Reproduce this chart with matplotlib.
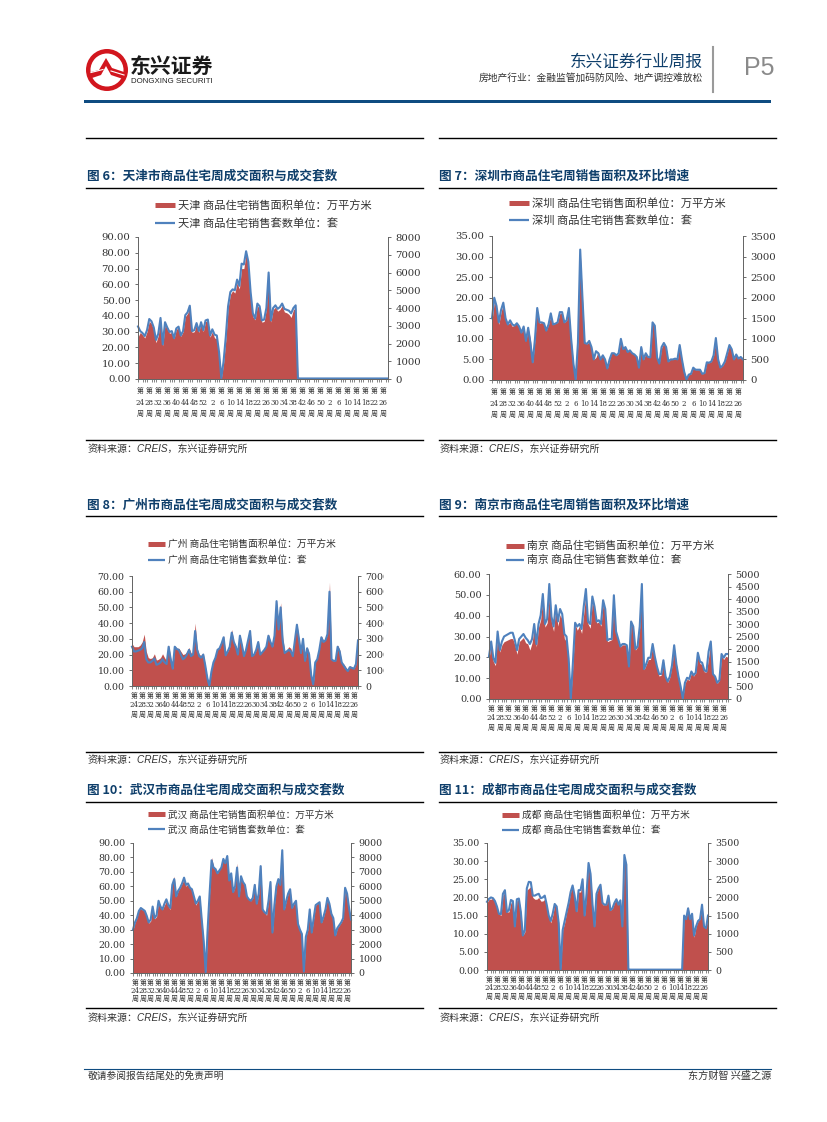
import matplotlib
matplotlib.use('Agg')
import matplotlib.pyplot as plt
import numpy as np
from matplotlib.lines import Line2D
from matplotlib.patches import Circle, Polygon, Rectangle
from matplotlib.transforms import Bbox

W, H = 827, 1122
CJK = 'Noto Sans CJK SC'
SERIF = ['DejaVu Serif', CJK]
plt.rcParams['font.family'] = [CJK, 'DejaVu Sans']

week_labels = [24, 28, 32, 36, 40, 44, 48, 52, 2, 6, 10, 14, 18, 22, 26, 30, 34, 38, 42, 46, 50, 2, 6, 10, 14, 18, 22, 26]

# ---- Tianjin
tj_area = [26.5, 29.5, 28.0, 26.0, 30.0, 36.5, 35.0, 31.0, 23.0, 27.5,
           38.0, 21.0, 35.0, 31.5, 29.0, 29.5, 25.5, 31.5, 32.5, 27.0,
           30.0, 39.5, 41.5, 45.5, 29.5, 30.0, 35.0, 29.5, 36.0, 30.0,
           36.5, 37.0, 26.5, 30.0, 26.0, 25.5, 16.0, 0.5, 10.0, 25.0,
           45.0, 53.5, 56.0, 54.5, 61.0, 57.0, 70.0, 70.0, 79.5, 72.0,
           53.5, 39.5, 37.5, 46.5, 44.5, 36.0, 36.5, 44.5, 67.0, 36.0,
           44.0, 45.5, 43.0, 44.0, 46.5, 42.5, 42.0, 41.0, 39.0, 44.0,
           45.0, 0.3, 0.2, 0.2, 0.2, 0.2, 0.2, 0.2, 0.2, 0.2,
           0.2, 0.2, 0.2, 0.2, 0.2, 0.2, 0.2, 0.2, 0.2, 0.2,
           0.2, 0.2, 0.2, 0.2, 0.2, 0.2, 0.2, 0.2, 0.2, 0.2,
           0.2, 0.2, 0.2, 0.2, 0.2, 0.2, 0.2, 0.2, 0.2, 0.2,
           0.2, 0.2]
tj_sets = [2960, 2700, 2590, 2420, 2750, 3380, 3250, 2900, 2200, 2550,
           3440, 1950, 3200, 2900, 2650, 2700, 2300, 2850, 2950, 2450,
           2700, 3600, 3750, 4130, 2700, 2750, 3150, 2700, 3200, 2750,
           3300, 3350, 2450, 2800, 2500, 2450, 1500, 50, 1000, 2400,
           4100, 4900, 5050, 5000, 5600, 5250, 6500, 6450, 7200, 6600,
           4900, 3700, 3400, 4250, 4100, 3300, 3350, 4000, 6000, 3300,
           4000, 4150, 3950, 4050, 4250, 3950, 3900, 3850, 3700, 4000,
           4150, 40, 30, 30, 30, 30, 30, 30, 30, 30,
           30, 30, 30, 30, 30, 30, 30, 30, 30, 30,
           30, 30, 30, 30, 30, 30, 30, 30, 30, 30,
           30, 30, 30, 30, 30, 30, 30, 30, 30, 30,
           30, 30]

# ---- Shenzhen
sz_area = [14.5, 19.0, 17.5, 13.5, 16.5, 18.5, 14.8, 13.5, 14.0, 13.0,
           13.5, 13.8, 13.2, 11.5, 13.0, 9.5, 12.8, 9.8, 4.2, 9.8,
           17.0, 13.8, 14.0, 13.6, 12.0, 13.5, 15.8, 13.5, 13.8, 14.0,
           16.2, 16.3, 14.0, 14.5, 17.0, 10.0, 4.0, 0.2, 9.0, 31.5,
           20.0, 9.0, 8.8, 9.3, 8.0, 5.0, 5.5, 7.0, 5.2, 6.0,
           4.8, 2.8, 5.0, 6.8, 6.6, 6.0, 6.5, 9.8, 7.8, 8.0,
           7.0, 7.3, 6.5, 6.2, 5.8, 3.2, 8.3, 5.0, 6.5, 5.7,
           5.5, 14.0, 13.0, 5.5, 4.2, 7.8, 9.0, 8.0, 4.5, 5.2,
           5.0, 5.2, 5.0, 8.5, 5.0, 2.0, 0.3, 1.3, 1.5, 3.0,
           2.5, 2.5, 2.5, 1.5, 1.7, 4.3, 4.2, 4.5, 6.0, 10.0,
           5.0, 3.0, 3.5, 4.5, 6.5, 8.5, 7.5, 5.0, 6.2, 5.2,
           5.5, 5.0]
sz_sets = [1500, 2000, 1800, 1400, 1700, 1880, 1500, 1350, 1450, 1350,
           1320, 1380, 1300, 1150, 1300, 950, 1270, 900, 430, 1000,
           1750, 1400, 1400, 1380, 1200, 1350, 1620, 1350, 1370, 1400,
           1650, 1650, 1400, 1450, 1750, 1000, 400, 10, 900, 3170,
           2000, 900, 880, 950, 800, 500, 700, 650, 500, 600,
           500, 280, 500, 650, 650, 600, 650, 1000, 750, 800,
           680, 720, 650, 620, 560, 300, 800, 500, 650, 560,
           550, 1400, 1320, 550, 400, 800, 900, 800, 450, 500,
           500, 520, 500, 850, 500, 200, 10, 130, 150, 300,
           250, 250, 250, 150, 170, 430, 420, 450, 600, 1020,
           500, 300, 350, 450, 650, 850, 750, 500, 620, 520,
           560, 500]

# ---- Guangzhou
gz_area = [27.0, 25.0, 25.0, 25.0, 26.0, 28.0, 33.0, 22.0, 18.0, 17.5,
           18.0, 20.5, 16.5, 17.0, 18.0, 20.5, 18.0, 16.0, 26.0, 18.0,
           11.0, 25.5, 24.0, 24.0, 22.0, 20.0, 20.5, 22.0, 24.5, 21.0,
           21.0, 40.0, 24.0, 20.0, 19.5, 21.0, 13.0, 5.0, 0.5, 10.0,
           16.0, 19.5, 23.5, 24.0, 28.0, 32.0, 20.5, 22.0, 25.0, 36.0,
           28.0, 25.5, 21.0, 33.0, 26.0, 19.5, 24.0, 30.0, 36.0, 20.0,
           20.5, 23.0, 29.0, 20.5, 22.0, 24.0, 26.0, 33.0, 28.0, 25.0,
           33.0, 54.0, 38.0, 53.0, 31.0, 22.0, 23.0, 25.0, 24.0, 20.0,
           32.0, 40.0, 30.0, 21.0, 31.0, 16.0, 25.0, 21.0, 7.0, 1.0,
           15.0, 18.0, 24.0, 32.0, 29.0, 30.0, 33.0, 66.0, 17.0, 16.0,
           16.5, 26.0, 23.0, 15.0, 14.0, 12.0, 10.0, 13.0, 12.0, 11.0,
           14.0, 30.0]
gz_sets = [2500, 2200, 2200, 2250, 2300, 2400, 2800, 1700, 1500, 1500,
           1600, 1750, 1350, 1400, 1500, 1700, 1500, 1400, 2500, 1700,
           1100, 2500, 2350, 2300, 2000, 1700, 1800, 2000, 2300, 1900,
           2000, 3500, 2300, 1900, 1800, 2000, 1300, 500, 10, 900,
           1500, 1800, 2300, 2400, 2700, 3100, 1950, 2200, 2500, 3400,
           2800, 2500, 2000, 3200, 2600, 1900, 2300, 2900, 3500, 1900,
           2000, 2300, 2800, 2000, 2150, 2300, 2500, 3200, 2800, 2500,
           3200, 5400, 3600, 5000, 2900, 2100, 2200, 2300, 2200, 1900,
           2900, 3900, 3000, 2100, 3000, 1600, 2400, 2000, 700, 100,
           1500, 1700, 2300, 3100, 2800, 2900, 3300, 6000, 1700, 1600,
           1600, 2500, 2200, 1500, 1300, 1100, 950, 1200, 1150, 1100,
           1400, 2900]

# ---- Nanjing
nj_area = [19.5, 26.0, 18.0, 16.0, 31.0, 22.5, 26.0, 27.5, 28.0, 28.5,
           29.0, 29.0, 26.0, 21.5, 27.5, 28.5, 29.5, 27.0, 26.5, 23.5,
           27.0, 34.0, 25.0, 34.5, 38.0, 49.0, 34.5, 36.5, 50.0, 37.0,
           32.5, 44.0, 35.0, 40.5, 38.0, 29.0, 27.5, 18.0, 0.3, 17.0,
           36.0, 33.0, 35.0, 31.5, 41.0, 50.5, 36.0, 34.0, 47.0, 42.5,
           36.5, 37.0, 35.0, 46.0, 42.0, 27.5, 28.0, 28.5, 49.0, 32.0,
           28.5, 25.0, 26.0, 26.0, 25.5, 15.5, 36.5, 34.0, 23.5, 25.0,
           34.5, 55.0, 14.0, 16.5, 19.0, 19.0, 26.0, 20.0, 15.0, 11.0,
           11.5, 18.5, 10.5, 8.0, 10.5, 16.0, 25.5, 17.0, 10.5, 5.5,
           0.5, 7.5, 9.5, 9.0, 12.5, 11.0, 12.5, 21.0, 17.0, 16.5,
           13.0, 13.0, 20.0, 27.5, 12.0, 10.5, 7.5, 9.0, 20.5, 19.0,
           20.5, 20.0]
nj_sets = [1700, 2300, 1650, 1450, 2700, 1950, 2300, 2500, 2550, 2600,
           2650, 2650, 2350, 1950, 2400, 2500, 2600, 2450, 2350, 2200,
           2400, 3000, 2200, 3000, 3350, 4200, 3000, 3200, 4600, 3300,
           2900, 3750, 3100, 3600, 3400, 2600, 2500, 1600, 10, 1500,
           3050, 2900, 3000, 2800, 3700, 4400, 3100, 3000, 4100, 3700,
           3100, 3150, 3000, 3950, 3600, 2350, 2400, 2400, 4150, 2700,
           2400, 2100, 2200, 2200, 2150, 1300, 3100, 2900, 2000, 2100,
           2900, 4600, 1200, 1400, 1650, 1650, 2200, 1700, 1300, 1000,
           1000, 1550, 900, 700, 900, 1350, 2150, 1400, 900, 500,
           10, 650, 850, 800, 1100, 950, 1050, 1850, 1500, 1450,
           1150, 1100, 1900, 2300, 1000, 900, 650, 750, 1800, 1650,
           1800, 1800]

# ---- Wuhan
wh_area = [30.0, 35.0, 38.0, 44.0, 44.5, 43.5, 42.5, 39.0, 34.5, 36.0,
           46.0, 37.5, 39.0, 50.0, 45.0, 44.0, 47.0, 50.0, 46.0, 44.0,
           61.0, 67.0, 53.0, 57.0, 59.0, 62.0, 65.0, 60.0, 62.0, 59.0,
           58.0, 52.0, 47.0, 50.0, 53.0, 37.0, 22.0, 0.5, 30.0, 55.0,
           80.0, 74.0, 72.0, 69.0, 72.0, 74.0, 79.0, 76.0, 82.0, 64.0,
           69.0, 56.0, 60.0, 76.0, 53.0, 67.0, 62.0, 61.0, 53.0, 51.0,
           50.0, 52.0, 62.0, 48.0, 55.0, 75.0, 44.0, 42.0, 40.0, 50.0,
           64.0, 28.0, 47.0, 60.0, 66.0, 61.0, 85.0, 44.0, 50.0, 55.0,
           58.0, 45.0, 48.0, 50.0, 34.0, 30.0, 27.0, 1.0, 25.0, 30.0,
           44.0, 28.0, 38.0, 47.0, 48.0, 49.0, 35.0, 39.0, 44.0, 52.0,
           48.0, 41.0, 38.0, 26.0, 31.0, 33.0, 35.0, 38.0, 58.0, 55.0,
           45.0, 36.0]
wh_sets = [3000, 3500, 3800, 4300, 4500, 4400, 4300, 3950, 3500, 3700,
           4600, 3800, 4000, 5000, 4600, 4400, 4800, 5100, 4700, 4500,
           6100, 6500, 5300, 5700, 5900, 6200, 6600, 6100, 6200, 5900,
           5800, 5300, 4800, 5000, 5300, 3700, 2200, 50, 3000, 5500,
           7800, 7300, 7200, 6900, 7100, 7300, 7900, 7600, 8100, 6400,
           6900, 5600, 6000, 7300, 5300, 6700, 6300, 6100, 5300, 5100,
           5000, 5200, 6100, 4800, 5500, 7400, 4400, 4200, 4100, 5000,
           6300, 2800, 4700, 6000, 6500, 6100, 8500, 4400, 5000, 5500,
           5800, 4500, 4800, 5000, 3400, 3000, 2700, 100, 2500, 3000,
           4400, 2800, 3800, 4700, 4800, 4900, 3500, 3900, 4400, 5200,
           4800, 4100, 3800, 2600, 3100, 3300, 3500, 3800, 5900, 5500,
           4500, 3700]

# ---- Chengdu
cd_area = [18.5, 19.5, 19.5, 19.8, 19.0, 17.0, 15.5, 15.0, 20.5, 21.5,
           16.0, 16.0, 18.5, 18.8, 12.0, 19.0, 19.5, 16.0, 9.5, 10.5,
           22.0, 22.5, 23.0, 20.0, 19.5, 19.5, 20.0, 19.0, 19.0, 19.5,
           17.5, 15.0, 13.0, 15.0, 18.0, 17.0, 13.0, 0.3, 11.0, 13.0,
           16.0, 18.5, 21.5, 23.0, 20.0, 16.0, 21.5, 21.5, 25.0, 15.0,
           21.0, 29.5, 26.5, 18.0, 12.0, 21.0, 22.5, 23.5, 18.0, 18.0,
           18.0, 20.5, 16.5, 17.0, 18.5, 19.5, 18.0, 19.0, 12.0, 31.5,
           29.0, 0.2, 0.1, 0.1, 0.1, 0.1, 0.1, 0.1, 0.1, 0.1,
           0.1, 0.1, 0.1, 0.1, 0.1, 0.1, 0.1, 0.1, 0.1, 0.1,
           0.1, 0.1, 0.1, 0.1, 0.1, 0.1, 0.1, 0.1, 0.1, 15.0,
           14.0, 17.5, 14.0, 15.5, 9.0, 12.0, 13.5, 14.0, 18.0, 12.0,
           11.5, 15.0]
cd_sets = [1880, 1960, 2000, 1980, 1900, 1750, 1550, 1540, 2100, 2200,
           1600, 1650, 1930, 1900, 1200, 1950, 1970, 1600, 950, 1100,
           2250, 2430, 2420, 2050, 2050, 2080, 2100, 1980, 2000, 2050,
           1800, 1500, 1350, 1550, 1820, 1750, 1300, 20, 1100, 1350,
           1600, 1850, 2150, 2330, 2050, 1620, 2200, 2200, 2500, 1500,
           2100, 2950, 2650, 1800, 1200, 2100, 2250, 2350, 1850, 1800,
           1800, 2050, 1650, 1700, 1850, 1950, 1800, 1920, 1200, 3170,
           2900, 20, 10, 10, 10, 10, 10, 10, 10, 10,
           10, 10, 10, 10, 10, 10, 10, 10, 10, 10,
           10, 10, 10, 10, 10, 10, 10, 10, 10, 1500,
           1400, 1700, 1400, 1550, 950, 1200, 1350, 1400, 1800, 1200,
           1150, 1500]

tj_left, tj_right = np.arange(0, 91, 10), np.arange(0, 8001, 1000)
sz_left, sz_right = np.arange(0, 36, 5), np.arange(0, 3501, 500)
gz_left, gz_right = np.arange(0, 71, 10), np.arange(0, 7001, 1000)
nj_left, nj_right = np.arange(0, 61, 10), np.arange(0, 5001, 500)
wh_left, wh_right = np.arange(0, 91, 10), np.arange(0, 9001, 1000)
cd_left, cd_right = np.arange(0, 36, 5), np.arange(0, 3501, 500)

titles = ['图 6：天津市商品住宅周成交面积与成交套数', '图 7：深圳市商品住宅周销售面积及环比增速',
          '图 8：广州市商品住宅周成交面积与成交套数', '图 9：南京市商品住宅周销售面积及环比增速',
          '图 10：武汉市商品住宅周成交面积与成交套数', '图 11：成都市商品住宅周成交面积与成交套数']
cities = ['天津', '深圳', '广州', '南京', '武汉', '成都']
source = '资料来源：CREIS，东兴证券研究所'

RED, BLUE, NAVY = '#C0504D', '#4F81BD', '#0F3F6B'

layouts = [
    dict(box=(138, 388, 237, 379), leg=(155, 200), lfs=8.1, tfs=7.3, sp=1.55, pad=6, hw=20, ls=0.67, clip=None),
    dict(box=(492, 743, 236, 380), leg=(509, 198), lfs=8.1, tfs=7.3, sp=1.55, pad=6, hw=20, ls=0.57, clip=None),
    dict(box=(132, 358, 576, 686), leg=(148, 539), lfs=7.0, tfs=6.8, sp=1.3, pad=4, hw=17, ls=0.62, clip=384),
    dict(box=(489, 728, 574, 699), leg=(506, 541), lfs=7.8, tfs=7.0, sp=1.3, pad=4, hw=18, ls=0.35, clip=None),
    dict(box=(133, 351, 843, 973), leg=(148, 810), lfs=6.9, tfs=6.8, sp=1.05, pad=4, hw=17, ls=0.55, clip=None),
    dict(box=(487, 708, 843, 970), leg=(502, 810), lfs=7.0, tfs=6.8, sp=1.15, pad=4, hw=17, ls=0.52, clip=None),
]
series = [(tj_area, tj_sets, tj_left, tj_right), (sz_area, sz_sets, sz_left, sz_right),
          (gz_area, gz_sets, gz_left, gz_right), (nj_area, nj_sets, nj_left, nj_right),
          (wh_area, wh_sets, wh_left, wh_right), (cd_area, cd_sets, cd_left, cd_right)]

fig = plt.figure(figsize=(W / 100, H / 100), dpi=100, facecolor='white')
page = fig.add_axes([0, 0, 1, 1], zorder=0)
page.set_xlim(0, W)
page.set_ylim(H, 0)
page.axis('off')

# ---- page furniture
page.add_patch(Circle((107, 70), 21, fc='#D2161E', ec='none'))
page.add_patch(Circle((107, 70), 16.5, fc='white', ec='none'))
page.add_patch(Polygon([(87, 73), (99, 70), (106, 58), (112, 68), (127, 73), (123, 79),
                        (111, 75), (106, 66), (101, 75), (89, 79)], fc='#D2161E', ec='none'))
page.plot([91, 103], [72.5, 69.5], color='white', lw=0.8)
page.plot([111, 124], [71, 75], color='white', lw=0.8)
page.text(130, 66, '东兴证券', fontsize=15, fontweight='bold', color='#1a1a1a', va='center', ha='left')
dt = page.text(131, 81.5, 'DONGXING SECURITIES', fontsize=5.7, family='Liberation Sans', color='#222222',
               va='center', ha='left')
dt.set_clip_box(Bbox([[125, 0], [212, H]]))
dt.set_clip_on(True)
page.text(703, 62, '东兴证券行业周报', fontsize=12, color=NAVY, va='center', ha='right')
page.text(703, 78, '房地产行业：金融监管加码防风险、地产调控难放松', fontsize=7, color='#333333', va='center', ha='right')
page.plot([712.5, 712.5], [47, 92], color='#9a9a9a', lw=1.5)
page.text(775, 68, 'P5', fontsize=18, family='Liberation Sans', color='#8a8a8a', va='center', ha='right')
page.add_patch(Rectangle((84, 100), 687, 3, fc='#0F4C81', ec='none'))
page.plot([84, 771], [1069, 1069], color='#0F4C81', lw=0.8)
page.text(88, 1076, '敬请参阅报告结尾处的免责声明', fontsize=7, color='#333333', va='center', ha='left')
page.text(771, 1076, '东方财智 兴盛之源', fontsize=7.3, color='#333333', va='center', ha='right')

for x0, x1 in [(86, 423), (439, 776)]:
    page.plot([x0, x1], [138, 138], color='black', lw=1.0)

title_pos = [(87, 176), (439, 176), (87, 505), (439, 505), (87, 790), (439, 790)]
title_rule = [188, 188, 516, 516, 802, 802]
src_rule = [440, 440, 752, 752, 1008, 1008]
src_y = [449, 449, 760, 760, 1018, 1018]
src_x = [88, 440, 88, 440, 88, 440]
for k in range(6):
    x0 = 86 if k % 2 == 0 else 439
    page.text(title_pos[k][0], title_pos[k][1], titles[k], fontsize=9.1, fontweight='bold', color=NAVY,
              va='center', ha='left')
    page.plot([x0, x0 + 337], [title_rule[k]] * 2, color='black', lw=1.0)
    page.plot([x0, x0 + 337], [src_rule[k]] * 2, color='black', lw=1.0)
    page.text(src_x[k], src_y[k], source, fontsize=7.2, style='italic', color='#333333',
              family=['Liberation Sans', CJK], va='center', ha='left')

# ---- charts
for k, (area, sets, lticks, rticks) in enumerate(series):
    lay = layouts[k]
    l, r, t, b = lay['box']
    ax = fig.add_axes([l / W, 1 - b / H, (r - l) / W, (b - t) / H], zorder=2)
    ax.patch.set_alpha(0)
    x = np.arange(len(area))
    ax.fill_between(x, 0, area, color=RED, lw=0)
    ax.set_xlim(0, len(area) - 1)
    ax.set_ylim(lticks[0], lticks[-1])
    ax.set_yticks(lticks)
    ax.set_yticklabels([f'{v:.2f}' for v in lticks], family='DejaVu Serif', fontsize=lay['tfs'], color='#333333')
    ax.tick_params(axis='y', length=2.4, width=0.6, color='#555555', pad=3)
    ax.spines['top'].set_visible(False)
    for s in ('left', 'right', 'bottom'):
        ax.spines[s].set_linewidth(0.7)
        ax.spines[s].set_color('#666666')

    # weekly comb of ticks; labels every four weeks, carried by zero-length major ticks
    ax.set_xticks(x, minor=True)
    ax.tick_params(axis='x', which='minor', length=2.2, width=0.5, color='#555555')
    ax.set_xticks(x[:len(week_labels) * 4:4] + 1)
    ax.set_xticklabels([f'第\n{w}\n周' for w in week_labels], family=SERIF, fontsize=5,
                       color='#333333', linespacing=lay['sp'])
    ax.tick_params(axis='x', which='major', length=0, pad=lay['pad'])

    axr = ax.twinx()
    axr.patch.set_alpha(0)
    axr.plot(np.arange(len(sets)), sets, color=BLUE, lw=1.5, clip_on=False, solid_joinstyle='round')
    axr.set_ylim(rticks[0], rticks[-1])
    axr.set_yticks(rticks)
    axr.set_yticklabels([str(v) for v in rticks], family='DejaVu Serif', fontsize=lay['tfs'], color='#333333')
    axr.tick_params(axis='y', length=2.4, width=0.6, color='#555555', pad=3)
    axr.spines['top'].set_visible(False)
    for s in ('left', 'right', 'bottom'):
        axr.spines[s].set_linewidth(0.7)
        axr.spines[s].set_color('#666666')
    if lay['clip']:
        for lab in axr.get_yticklabels():
            lab.set_clip_box(Bbox([[0, 0], [lay['clip'], H]]))
            lab.set_clip_on(True)

    city = cities[k]
    handles = [Line2D([], [], color=RED, lw=3.6, solid_capstyle='butt'),
               Line2D([], [], color=BLUE, lw=1.6, solid_capstyle='butt')]
    labels = [f'{city} 商品住宅销售面积单位：万平方米', f'{city} 商品住宅销售套数单位：套']
    px = lay['lfs'] / 0.72
    fig.legend(handles, labels, loc='upper left', bbox_to_anchor=(lay['leg'][0] / W, 1 - lay['leg'][1] / H),
               bbox_transform=fig.transFigure, frameon=False, fontsize=lay['lfs'], borderpad=0,
               borderaxespad=0, handlelength=lay['hw'] / px, handletextpad=3 / px, labelspacing=lay['ls'],
               labelcolor='#333333')

fig.savefig('out.png', dpi=100)
